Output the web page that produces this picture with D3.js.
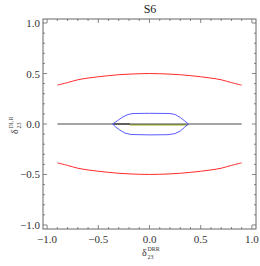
<!DOCTYPE html>
<html>
<head>
<meta charset="utf-8">
<script src="https://cdn.jsdelivr.net/npm/d3@7"></script>
<style>
  body { margin: 0; background: #fff; }
  svg text { font-family: "Liberation Serif", "Times New Roman", "DejaVu Serif", serif; }
</style>
</head>
<body>
<div id="chart"></div>
<script>
// red contours (upper half; lower one is mirrored)
var redX = [-0.9, -0.8, -0.7, -0.6, -0.5, -0.4, -0.3, -0.2, -0.1, 0, 0.1, 0.2, 0.3, 0.4, 0.5, 0.6, 0.7, 0.8, 0.9];
var redY = [0.385, 0.41, 0.438, 0.455, 0.468, 0.479, 0.488, 0.494, 0.498, 0.5, 0.498, 0.494, 0.488, 0.479, 0.468, 0.455, 0.438, 0.41, 0.385];

// blue closed contour
var blueX = [-0.36, -0.31, -0.26, -0.21, -0.16, 0, 0.2, 0.25, 0.3, 0.34, 0.38, 0.34, 0.3, 0.25, 0.18, 0, -0.18, -0.24, -0.29, -0.33];
var blueY = [0, 0.035, 0.07, 0.094, 0.104, 0.106, 0.104, 0.094, 0.065, 0.033, 0, -0.035, -0.07, -0.095, -0.106, -0.108, -0.104, -0.09, -0.06, -0.03];

// segments on the zero line
var blackSeg = [-0.9, 0.9];
var greySeg = [-0.36, -0.19];
var greenSeg = [-0.19, 0.38];

var majorTicks = [-1, -0.5, 0, 0.5, 1];
var tickLabels = ["\u22121.0", "\u22120.5", "0.0", "0.5", "1.0"];

var width = 260, height = 266;
var frameLeft = 43, frameRight = 256, frameTop = 19, frameBottom = 229;
var serif = "Liberation Serif, Times New Roman, serif";

var svg = d3.select("#chart").append("svg")
  .attr("width", width)
  .attr("height", height);

var x = d3.scaleLinear().domain([-1.04, 1.04]).range([frameLeft, frameRight]);
var y = d3.scaleLinear().domain([-1.04, 1.04]).range([frameBottom, frameTop]);

var minorTicks = d3.range(-10, 11).map(function(i) { return i / 10; });

// frame
svg.append("rect")
  .attr("x", frameLeft).attr("y", frameTop)
  .attr("width", frameRight - frameLeft).attr("height", frameBottom - frameTop)
  .attr("fill", "none")
  .attr("stroke", "#666")
  .attr("stroke-width", 1);

// ticks on all four sides
var tickG = svg.append("g").attr("stroke", "#666").attr("stroke-width", 0.8);
minorTicks.forEach(function(t) {
  var major = majorTicks.some(function(m) { return Math.abs(m - t) < 1e-9; });
  var len = major ? 4 : 2;
  tickG.append("line").attr("x1", x(t)).attr("x2", x(t)).attr("y1", frameBottom).attr("y2", frameBottom - len);
  tickG.append("line").attr("x1", x(t)).attr("x2", x(t)).attr("y1", frameTop).attr("y2", frameTop + len);
  tickG.append("line").attr("y1", y(t)).attr("y2", y(t)).attr("x1", frameLeft).attr("x2", frameLeft + len);
  tickG.append("line").attr("y1", y(t)).attr("y2", y(t)).attr("x1", frameRight).attr("x2", frameRight - len);
});

// tick labels
majorTicks.forEach(function(t, i) {
  svg.append("text")
    .attr("x", x(t)).attr("y", frameBottom + 14)
    .attr("text-anchor", "middle")
    .attr("font-family", serif)
    .attr("font-size", 11).attr("fill", "#333")
    .text(tickLabels[i]);
  svg.append("text")
    .attr("x", frameLeft - 3).attr("y", y(t) + 4)
    .attr("text-anchor", "end")
    .attr("font-family", serif)
    .attr("font-size", 11).attr("fill", "#333")
    .text(tickLabels[i]);
});

// title
svg.append("text")
  .attr("x", 150).attr("y", 13)
  .attr("text-anchor", "middle")
  .attr("font-family", serif)
  .attr("font-size", 12)
  .attr("fill", "#222")
  .text("S6");

// axis labels: delta with super/subscripts as separate texts
function deltaLabel(g, sup) {
  g.append("text").attr("x", 0).attr("y", 0)
    .attr("font-family", serif).attr("font-size", 10).attr("fill", "#333")
    .text("\u03b4");
  g.append("text").attr("x", 5.5).attr("y", -5)
    .attr("font-family", serif).attr("font-size", 6).attr("fill", "#333")
    .text(sup);
  g.append("text").attr("x", 5.5).attr("y", 3)
    .attr("font-family", serif).attr("font-size", 6).attr("fill", "#333")
    .text("23");
}

deltaLabel(svg.append("g").attr("transform", "translate(142,256)"), "DRR");
deltaLabel(svg.append("g").attr("transform", "translate(18,134) rotate(-90)"), "DLR");

var plot = svg.append("g");

var openLine = d3.line()
  .x(function(d) { return x(d[0]); })
  .y(function(d) { return y(d[1]); })
  .curve(d3.curveCatmullRom);

var redUpper = redX.map(function(v, i) { return [v, redY[i]]; });
var redLower = redX.map(function(v, i) { return [v, -redY[i]]; });

[redUpper, redLower].forEach(function(pts) {
  plot.append("path")
    .attr("d", openLine(pts))
    .attr("fill", "none")
    .attr("stroke", "#ff2a2a")
    .attr("stroke-width", 1);
});

// green segment slightly under the black line
plot.append("line")
  .attr("x1", x(greenSeg[0])).attr("x2", x(greenSeg[1]))
  .attr("y1", y(0) + 0.8).attr("y2", y(0) + 0.8)
  .attr("stroke", "#b8cc60")
  .attr("stroke-width", 1.8);

plot.append("line")
  .attr("x1", x(greySeg[0])).attr("x2", x(greySeg[1]))
  .attr("y1", y(0)).attr("y2", y(0))
  .attr("stroke", "#777")
  .attr("stroke-width", 1.8);

plot.append("line")
  .attr("x1", x(blackSeg[0])).attr("x2", x(blackSeg[1]))
  .attr("y1", y(0)).attr("y2", y(0))
  .attr("stroke", "#333")
  .attr("stroke-width", 0.9);

var closedLine = d3.line()
  .x(function(d) { return x(d[0]); })
  .y(function(d) { return y(d[1]); })
  .curve(d3.curveLinearClosed);

plot.append("path")
  .attr("d", closedLine(blueX.map(function(v, i) { return [v, blueY[i]]; })))
  .attr("fill", "none")
  .attr("stroke", "#5a5aff")
  .attr("stroke-width", 1);
</script>
</body>
</html>
